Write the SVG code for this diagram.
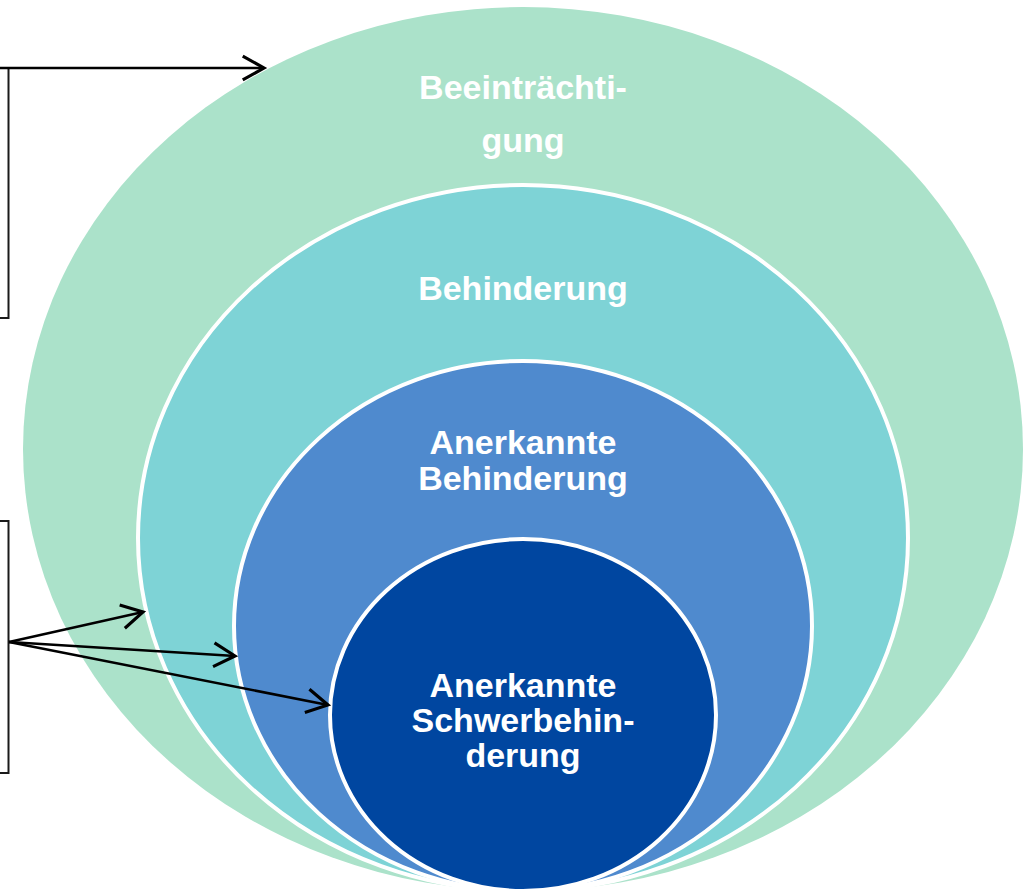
<svg xmlns="http://www.w3.org/2000/svg" width="1023" height="894" viewBox="0 0 1023 894">
  <style>
    .lbl { font-family: "Liberation Sans", Arial, sans-serif; font-weight: bold; font-size: 34px; fill: #ffffff; text-anchor: middle; }
    .ring { stroke: #ffffff; stroke-width: 4; }
    .box { fill: none; stroke: #1a1a1a; stroke-width: 2; }
    .conn { fill: none; stroke: #000000; stroke-width: 2.5; }
  </style>
  <defs>
    <marker id="arr" markerUnits="userSpaceOnUse" markerWidth="30" markerHeight="30" refX="0" refY="0" viewBox="-20 -12 24 24" orient="auto" overflow="visible">
      <path d="M-17,-9.5 L0,0 L-17,9.5" fill="none" stroke="#000000" stroke-width="2.5" stroke-linejoin="miter"/>
    </marker>
  </defs>
  <rect width="1023" height="894" fill="#ffffff"/>

  <g id="beeintraechtigung">
    <ellipse cx="523" cy="449" rx="500" ry="442" fill="#ABE2CA"/>
    <text class="lbl" x="523" y="99">Beeinträchti-</text>
    <text class="lbl" x="523" y="152">gung</text>
  </g>
  <g id="behinderung">
    <ellipse class="ring" cx="523" cy="538" rx="385" ry="353" fill="#7ED3D6"/>
    <text class="lbl" x="523" y="300">Behinderung</text>
  </g>
  <g id="anerkannte-behinderung">
    <ellipse class="ring" cx="523" cy="626" rx="289" ry="265" fill="#4F8ACE"/>
    <text class="lbl" x="523" y="454">Anerkannte</text>
    <text class="lbl" x="523" y="490">Behinderung</text>
  </g>
  <g id="anerkannte-schwerbehinderung">
    <ellipse class="ring" cx="523" cy="715" rx="193" ry="176" fill="#0046A0"/>
    <text class="lbl" x="523" y="697">Anerkannte</text>
    <text class="lbl" x="523" y="732">Schwerbehin-</text>
    <text class="lbl" x="523" y="767">derung</text>
  </g>

  <g id="box-top">
    <rect class="box" x="-10" y="68" width="18.5" height="250"/>
  </g>
  <g id="box-bottom">
    <rect class="box" x="-10" y="521" width="18.5" height="252"/>
  </g>

  <g id="connectors">
    <path class="conn" d="M0,68 L264,68" marker-end="url(#arr)"/>
    <path class="conn" d="M9,642 L143,612" marker-end="url(#arr)"/>
    <path class="conn" d="M9,642 L235,656" marker-end="url(#arr)"/>
    <path class="conn" d="M9,642 L328,705" marker-end="url(#arr)"/>
  </g>
</svg>
